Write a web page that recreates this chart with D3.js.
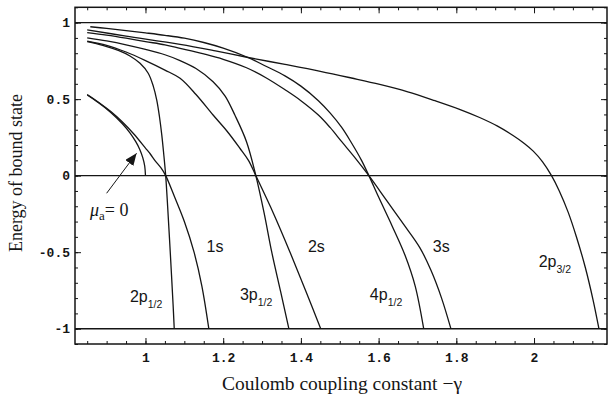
<!DOCTYPE html>
<html>
<head>
<meta charset="utf-8">
<script src="https://cdn.jsdelivr.net/npm/d3@7"></script>
<style>
  body { margin: 0; background: #fff; }
  svg { display: block; }
</style>
</head>
<body>
<div id="chart"></div>
<script>
// bound state energies, -gamma on x
const gMu0 = [0.85, 0.88, 0.91, 0.94, 0.96, 0.975, 0.985, 0.993, 0.998, 1.0];
const eMu0 = [0.527, 0.475, 0.415, 0.341, 0.28, 0.222, 0.173, 0.118, 0.063, 0];

const g1s = [0.85, 0.88, 0.91, 0.94, 0.97, 1.0, 1.012, 1.025, 1.04, 1.052, 1.075, 1.1, 1.125, 1.145, 1.163];
const e1s = [0.53, 0.478, 0.42, 0.352, 0.272, 0.18, 0.143, 0.097, 0.05, 0, -0.14, -0.3, -0.5, -0.72, -1];

const g2p12 = [0.85, 0.89, 0.93, 0.96, 0.986, 1.007, 1.02, 1.029, 1.036, 1.042, 1.047, 1.052, 1.057, 1.062, 1.067, 1.071, 1.074];
const e2p12 = [0.876, 0.852, 0.818, 0.782, 0.734, 0.669, 0.585, 0.494, 0.385, 0.265, 0.14, 0, -0.2, -0.42, -0.65, -0.84, -1];

const g2s = [0.85, 0.9, 0.95, 1.0, 1.05, 1.089, 1.13, 1.174, 1.21, 1.243, 1.265, 1.284, 1.33, 1.372, 1.412, 1.451];
const e2s = [0.879, 0.852, 0.808, 0.752, 0.69, 0.636, 0.53, 0.396, 0.29, 0.179, 0.1, 0, -0.25, -0.5, -0.75, -1];

const g3p12 = [0.85, 0.9, 0.95, 1.0, 1.05, 1.089, 1.13, 1.174, 1.205, 1.23, 1.26, 1.284, 1.305, 1.325, 1.348, 1.369];
const e3p12 = [0.90, 0.88, 0.855, 0.825, 0.79, 0.752, 0.7, 0.614, 0.52, 0.396, 0.222, 0, -0.24, -0.5, -0.76, -1];

const g3s = [0.85, 0.9, 0.95, 1.0, 1.05, 1.089, 1.15, 1.2, 1.26, 1.31, 1.36, 1.40, 1.445, 1.475, 1.505, 1.54, 1.575, 1.62, 1.665, 1.706, 1.735, 1.762, 1.786];
const e3s = [0.935, 0.918, 0.898, 0.876, 0.855, 0.832, 0.795, 0.76, 0.705, 0.64, 0.56, 0.49, 0.396, 0.315, 0.222, 0.115, 0, -0.16, -0.32, -0.47, -0.62, -0.8, -1];

const g4p12 = [0.858, 0.9, 0.95, 1.0, 1.05, 1.1, 1.15, 1.2, 1.264, 1.31, 1.359, 1.40, 1.445, 1.475, 1.505, 1.53, 1.556, 1.575, 1.60, 1.635, 1.668, 1.694, 1.716];
const e4p12 = [0.973, 0.962, 0.948, 0.933, 0.917, 0.898, 0.87, 0.833, 0.772, 0.715, 0.652, 0.585, 0.49, 0.41, 0.315, 0.215, 0.1, 0, -0.14, -0.33, -0.52, -0.72, -1];

const g2p32 = [0.85, 0.95, 1.089, 1.18, 1.264, 1.359, 1.45, 1.53, 1.603, 1.675, 1.745, 1.81, 1.86, 1.905, 1.946, 1.975, 1.998, 2.022, 2.045, 2.065, 2.088, 2.109, 2.132, 2.152, 2.167];
const e2p32 = [0.952, 0.912, 0.858, 0.815, 0.772, 0.727, 0.682, 0.638, 0.596, 0.548, 0.49, 0.432, 0.38, 0.325, 0.262, 0.21, 0.16, 0.09, 0, -0.1, -0.24, -0.399, -0.6, -0.813, -1];

const levels = [1, 0, -1];
const xTicks = [1, 1.2, 1.4, 1.6, 1.8, 2];
const xTickLabels = ['1', '1.2', '1.4', '1.6', '1.8', '2'];
const yTicks = [-1, -0.5, 0, 0.5, 1];
const yTickLabels = ['-1', '-0.5', '0', '0.5', '1'];

const curves = [
  [gMu0, eMu0], [g1s, e1s], [g2p12, e2p12], [g2s, e2s],
  [g3p12, e3p12], [g3s, e3s], [g4p12, e4p12], [g2p32, e2p32]
];

const width = 609, height = 396;
const frame = { left: 75, right: 607, top: 7.3, bottom: 344 };

const svg = d3.select('#chart').append('svg')
  .attr('width', width)
  .attr('height', height);

const x = d3.scaleLinear().domain([0.8186, 2.1878]).range([frame.left, frame.right]);
const y = d3.scaleLinear().domain([-1.1, 1.1]).range([frame.bottom, frame.top]);

const ink = '#151515';
const tickFont = '"Liberation Mono", "DejaVu Sans Mono", monospace';
const serif = '"Liberation Serif", "DejaVu Serif", serif';
const sans = '"Liberation Sans", Arial, sans-serif';

// frame ticks, pointing inward on all four sides
const xMinor = d3.range(17, 44).map(i => i * 0.05);
const yMinor = d3.range(-11, 12).map(i => i * 0.1);

function frameAxis(axis, tr, size, values, fmt) {
  const g = svg.append('g')
    .attr('transform', tr)
    .call(axis.tickValues(values).tickSize(size).tickFormat(fmt || ''));
  g.select('.domain').remove();
  g.selectAll('line').attr('stroke', ink).attr('stroke-width', 1);
  return g;
}

frameAxis(d3.axisBottom(x), `translate(0,${frame.bottom})`, -3, xMinor);
frameAxis(d3.axisTop(x), `translate(0,${frame.top})`, -3, xMinor);
frameAxis(d3.axisTop(x), `translate(0,${frame.top})`, -6, xTicks);
frameAxis(d3.axisLeft(y), `translate(${frame.left},0)`, -3, yMinor);
frameAxis(d3.axisRight(y), `translate(${frame.right},0)`, -3, yMinor);
frameAxis(d3.axisRight(y), `translate(${frame.right},0)`, -6, yTicks);

const xAx = frameAxis(d3.axisBottom(x).tickPadding(8.5), `translate(0,${frame.bottom})`, -6, xTicks,
  (d, i) => xTickLabels[i]);
const yAx = frameAxis(d3.axisLeft(y).tickPadding(5), `translate(${frame.left},0)`, -6, yTicks,
  (d, i) => yTickLabels[i]);

[xAx, yAx].forEach(g => g.selectAll('text')
  .attr('fill', ink)
  .style('font-family', tickFont)
  .style('font-size', '13px')
  .style('font-weight', 'bold'));

// frame
svg.append('rect')
  .attr('x', frame.left).attr('y', frame.top)
  .attr('width', frame.right - frame.left).attr('height', frame.bottom - frame.top)
  .attr('fill', 'none')
  .attr('stroke', ink)
  .attr('stroke-width', 1.5);

// E = 1, 0, -1 reference lines
svg.selectAll('line.level')
  .data(levels)
  .enter()
  .append('line')
  .attr('class', 'level')
  .attr('x1', frame.left).attr('x2', frame.right)
  .attr('y1', d => y(d)).attr('y2', d => y(d))
  .attr('stroke', ink)
  .attr('stroke-width', 1.4);

const line = d3.line()
  .x(d => x(d[0]))
  .y(d => y(d[1]))
  .curve(d3.curveCatmullRom.alpha(0.5));

svg.selectAll('path.curve')
  .data(curves)
  .enter()
  .append('path')
  .attr('class', 'curve')
  .attr('d', d => line(d[0].map((g, i) => [g, d[1][i]])))
  .attr('fill', 'none')
  .attr('stroke', ink)
  .attr('stroke-width', 1.3);

// state labels
const labels = [
  { t: '2p', s: '1/2', gx: 0.960, ey: -0.826 },
  { t: '1s', s: '', gx: 1.157, ey: -0.497 },
  { t: '3p', s: '1/2', gx: 1.243, ey: -0.812 },
  { t: '2s', s: '', gx: 1.418, ey: -0.5 },
  { t: '4p', s: '1/2', gx: 1.5775, ey: -0.812 },
  { t: '3s', s: '', gx: 1.7395, ey: -0.5 },
  { t: '2p', s: '3/2', gx: 2.012, ey: -0.594 }
];

const lab = svg.selectAll('text.state')
  .data(labels)
  .enter()
  .append('text')
  .attr('class', 'state')
  .attr('x', d => x(d.gx))
  .attr('y', d => y(d.ey))
  .attr('fill', ink)
  .style('font-family', sans)
  .style('font-size', '16px');

lab.append('tspan').text(d => d.t);
lab.append('tspan')
  .attr('dy', 6)
  .style('font-size', '10.5px')
  .text(d => d.s);

// mu_a = 0 annotation with arrow
svg.append('defs').append('marker')
  .attr('id', 'head')
  .attr('viewBox', '0 0 12 10')
  .attr('refX', 12).attr('refY', 5)
  .attr('markerWidth', 12).attr('markerHeight', 10)
  .attr('markerUnits', 'userSpaceOnUse')
  .attr('orient', 'auto')
  .append('path')
  .attr('d', 'M0,0L12,5L0,10Z')
  .attr('fill', ink);

svg.append('line')
  .attr('x1', x(0.900)).attr('y1', y(-0.115))
  .attr('x2', x(0.977)).attr('y2', y(0.146))
  .attr('stroke', ink)
  .attr('stroke-width', 1)
  .attr('marker-end', 'url(#head)');

const mu = svg.append('text')
  .attr('x', x(0.857))
  .attr('y', y(-0.264))
  .attr('fill', ink)
  .style('font-family', serif)
  .style('font-size', '18px');
mu.append('tspan').style('font-style', 'italic').text('μ');
mu.append('tspan').attr('dy', 4).style('font-size', '13px').text('a');
mu.append('tspan').attr('dy', -4).text('= 0');

// axis titles
svg.append('text')
  .attr('x', 342)
  .attr('y', 390)
  .attr('text-anchor', 'middle')
  .attr('fill', ink)
  .style('font-family', serif)
  .style('font-size', '19.5px')
  .text('Coulomb coupling constant  −γ');

svg.append('text')
  .attr('transform', 'translate(22,173) rotate(-90)')
  .attr('text-anchor', 'middle')
  .attr('fill', ink)
  .style('font-family', serif)
  .style('font-size', '18px')
  .text('Energy of bound state');
</script>
</body>
</html>
